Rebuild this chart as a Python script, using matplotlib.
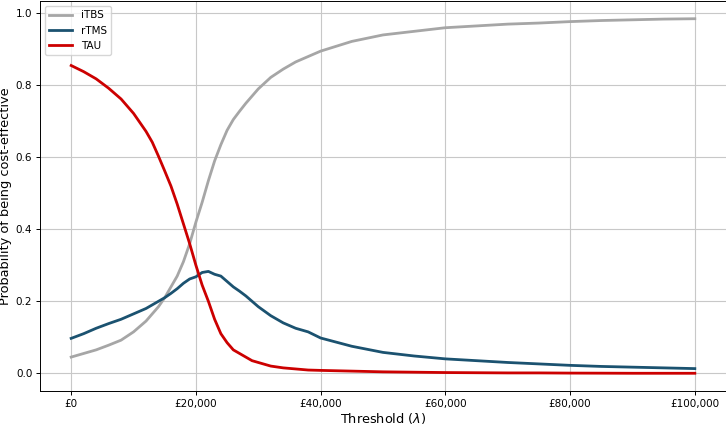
import matplotlib.pyplot as plt
from matplotlib.ticker import FuncFormatter

# willingness-to-pay thresholds (GBP)
wtp = [0, 2000, 4000, 6000, 8000, 10000, 12000, 13000, 14000, 15000, 16000, 17000,
       18000, 19000, 20000, 21000, 22000, 23000, 24000, 25000, 26000, 27000, 28000,
       29000, 30000, 32000, 34000, 36000, 38000, 40000, 45000, 50000, 55000, 60000,
       65000, 70000, 75000, 80000, 85000, 90000, 95000, 100000]

itbs = [0.045, 0.055, 0.065, 0.078, 0.092, 0.115, 0.145, 0.165, 0.185, 0.21, 0.24, 0.27,
        0.31, 0.36, 0.42, 0.475, 0.535, 0.59, 0.635, 0.675, 0.705, 0.728, 0.75,
        0.77, 0.79, 0.822, 0.845, 0.865, 0.88, 0.895, 0.922, 0.94, 0.95, 0.96,
        0.965, 0.97, 0.973, 0.977, 0.98, 0.982, 0.984, 0.985]

rtms = [0.097, 0.11, 0.125, 0.138, 0.15, 0.165, 0.18, 0.19, 0.2, 0.21, 0.222, 0.235,
        0.25, 0.262, 0.268, 0.28, 0.283, 0.275, 0.27, 0.255, 0.24, 0.228, 0.215,
        0.2, 0.185, 0.16, 0.14, 0.125, 0.115, 0.098, 0.075, 0.058, 0.048, 0.04,
        0.035, 0.03, 0.026, 0.022, 0.019, 0.017, 0.015, 0.013]

tau = [0.855, 0.838, 0.818, 0.792, 0.762, 0.722, 0.672, 0.642, 0.603, 0.562, 0.52, 0.47,
       0.415, 0.36, 0.30, 0.245, 0.20, 0.15, 0.11, 0.085, 0.065, 0.055, 0.045,
       0.035, 0.03, 0.02, 0.015, 0.012, 0.009, 0.008, 0.006, 0.004, 0.003, 0.002,
       0.0015, 0.001, 0.001, 0.0005, 0.0003, 0.0, 0.0, 0.0]

plt.rcParams['axes.linewidth'] = 0.7
plt.rcParams['xtick.major.size'] = 2.8
plt.rcParams['ytick.major.size'] = 2.8
plt.rcParams['xtick.major.width'] = 0.7
plt.rcParams['ytick.major.width'] = 0.7

fig = plt.figure(figsize=(7.26, 4.25), dpi=100)
# reference is cropped tight, right spine sits at the image edge
ax = fig.add_axes([40 / 726, 34 / 425, 686 / 726, 390 / 425])
ax.plot(wtp, itbs, color='#a6a6a6', lw=2.0, label='iTBS')
ax.plot(wtp, rtms, color='#1b5270', lw=2.0, label='rTMS')
ax.plot(wtp, tau, color='#cc0000', lw=2.0, label='TAU')

ax.set_xticks([0, 20000, 40000, 60000, 80000, 100000])
ax.xaxis.set_major_formatter(FuncFormatter(lambda v, p: f"£{int(v):,}"))
ax.tick_params(labelsize=7.5, pad=2.7)
ax.set_xlabel(r"Threshold ($\lambda$)", fontsize=9.3, labelpad=2)
ax.set_ylabel("Probability of being cost-effective", fontsize=9.3, labelpad=3)
ax.grid(True, color='#c8c8c8', lw=0.8)
ax.legend(loc='upper left', fontsize=7.5, handlelength=2.2)
fig.savefig('out.png')
